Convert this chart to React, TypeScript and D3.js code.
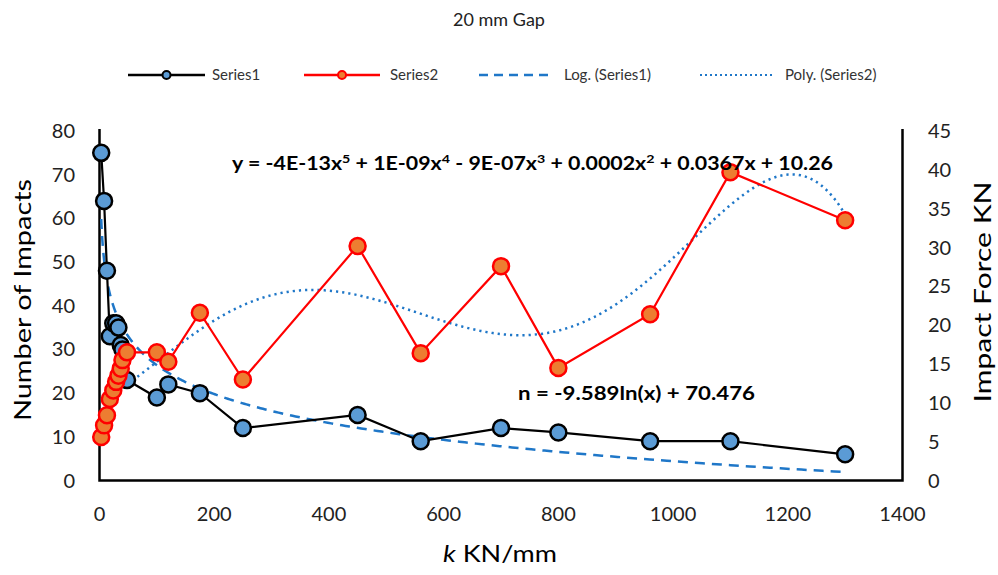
import React from "react";
import * as d3 from "d3";

const kValues = [3, 8, 13, 18, 24, 29, 33, 37, 40, 48, 100, 120, 175, 250, 450, 560, 700, 800, 960, 1100, 1300];
const impacts = [75, 64, 48, 33, 36, 36, 35, 31, 30, 23, 19, 22, 20, 12, 15, 9, 12, 11, 9, 9, 6];
const impactForce = [5.6, 7.1, 8.4, 10.5, 11.6, 12.7, 13.5, 14.4, 15.5, 16.5, 16.5, 15.3, 21.6, 13.0, 30.2, 16.4, 27.6, 14.5, 21.4, 39.7, 33.5];
const xTicks = [0, 200, 400, 600, 800, 1000, 1200, 1400];
const leftTicks = [0, 10, 20, 30, 40, 50, 60, 70, 80];
const rightTicks = [0, 5, 10, 15, 20, 25, 30, 35, 40, 45];
const legendLabels = ["Series1", "Series2", "Log. (Series1)", "Poly. (Series2)"];

const W = 998, H = 575;
const M = { left: 99.5, right: 902.5, top: 131, bottom: 480.5 };
const FONT = "Lato, 'Open Sans', sans-serif";

function logFit(xs: number[], ys: number[]) {
  const lx = xs.map(Math.log);
  const mx = d3.mean(lx)!, my = d3.mean(ys)!;
  let num = 0, den = 0;
  lx.forEach((v, i) => { num += (v - mx) * (ys[i] - my); den += (v - mx) ** 2; });
  const a = num / den;
  return { a, b: my - a * mx };
}

function polyFit(xs: number[], ys: number[], deg: number, scale: number) {
  const n = deg + 1;
  const A: number[][] = Array.from({ length: n }, () => new Array(n + 1).fill(0));
  xs.forEach((x0, idx) => {
    const t = x0 / scale;
    for (let r = 0; r < n; r++) {
      for (let c = 0; c < n; c++) A[r][c] += Math.pow(t, r + c);
      A[r][n] += Math.pow(t, r) * ys[idx];
    }
  });
  for (let i = 0; i < n; i++) {
    let p = i;
    for (let r = i + 1; r < n; r++) if (Math.abs(A[r][i]) > Math.abs(A[p][i])) p = r;
    [A[i], A[p]] = [A[p], A[i]];
    for (let r = 0; r < n; r++) {
      if (r === i) continue;
      const f = A[r][i] / A[i][i];
      for (let c = i; c <= n; c++) A[r][c] -= f * A[i][c];
    }
  }
  const coef = A.map((row, i) => row[n] / row[i]);
  return (x: number) => coef.reduce((s, c, i) => s + c * Math.pow(x / scale, i), 0);
}

export default function App() {
  const x = d3.scaleLinear().domain([0, 1400]).range([M.left, M.right]);
  const yL = d3.scaleLinear().domain([0, 80]).range([M.bottom, M.top]);
  const yR = d3.scaleLinear().domain([0, 45]).range([M.bottom, M.top]);

  const s1 = kValues.map((k, i) => [k, impacts[i]] as [number, number]);
  const s2 = kValues.map((k, i) => [k, impactForce[i]] as [number, number]);

  const lf = logFit(kValues, impacts);
  const pf = polyFit(kValues, impactForce, 5, 1000);
  const kMin = d3.min(kValues)!, kMax = d3.max(kValues)!;
  const samples = d3.range(0, 301).map((i) => kMin + (kMax - kMin) * (i / 300));
  const logSamples = d3.range(0, 401).map((i) => kMin * Math.pow(kMax / kMin, i / 400));

  const line1 = d3.line<[number, number]>().x((d) => x(d[0])).y((d) => yL(d[1]));
  const line2 = d3.line<[number, number]>().x((d) => x(d[0])).y((d) => yR(d[1]));
  const logPath = d3.line<number>().x((k) => x(k)).y((k) => yL(lf.a * Math.log(k) + lf.b))(logSamples);
  const polyPath = d3.line<number>().x((k) => x(k)).y((k) => yR(pf(k)))(samples);

  const blue = "#5B9BD5";
  const orange = "#ED7D31";
  const trendBlue = "#1F77C8";

  const legendY = 75;
  const legendItems = [
    { x0: 128, x1: 205, tx: 212, kind: "s1" },
    { x0: 304, x1: 380, tx: 390, kind: "s2" },
    { x0: 479, x1: 550, tx: 564, kind: "log" },
    { x0: 700, x1: 772, tx: 785, kind: "poly" },
  ];

  return (
    <svg width={W} height={H} style={{ position: "absolute", left: 0, top: 0, background: "#fff" }} fontFamily={FONT}>
      <text x={499} y={26} textAnchor="middle" fontSize={18} fill="#222">20 mm Gap</text>

      {legendItems.map((it, i) => (
        <g key={i}>
          {it.kind === "s1" && <>
            <line x1={it.x0} x2={it.x1} y1={legendY} y2={legendY} stroke="#000" strokeWidth={2.5} />
            <circle cx={(it.x0 + it.x1) / 2} cy={legendY} r={4} fill={blue} stroke="#000" strokeWidth={2} />
          </>}
          {it.kind === "s2" && <>
            <line x1={it.x0} x2={it.x1} y1={legendY} y2={legendY} stroke="#FF0000" strokeWidth={2.5} />
            <circle cx={(it.x0 + it.x1) / 2} cy={legendY} r={4} fill={orange} stroke="#FF0000" strokeWidth={2} />
          </>}
          {it.kind === "log" && <line x1={it.x0} x2={it.x1} y1={legendY} y2={legendY} stroke={trendBlue} strokeWidth={2.5} strokeDasharray="9,6" />}
          {it.kind === "poly" && <line x1={it.x0} x2={it.x1} y1={legendY} y2={legendY} stroke={trendBlue} strokeWidth={2.2} strokeDasharray="2,3" />}
          <text x={it.tx} y={legendY + 5} fontSize={15} fill="#333">{legendLabels[i]}</text>
        </g>
      ))}

      {/* axes */}
      <path d={`M${M.left},${M.top - 2}V${M.bottom}H${M.right}V${M.top - 2}`} fill="none" stroke="#000" strokeWidth={2.5} />

      {leftTicks.map((t) => (
        <text key={"l" + t} x={75} y={yL(t) + 7} textAnchor="end" fontSize={20} fill="#222">{t}</text>
      ))}
      {rightTicks.map((t) => (
        <text key={"r" + t} x={928} y={yR(t) + 7} textAnchor="start" fontSize={20} fill="#222">{t}</text>
      ))}
      {xTicks.map((t) => (
        <text key={"x" + t} x={x(t)} y={521} textAnchor="middle" fontSize={20} fill="#222">{t}</text>
      ))}

      <text transform={`translate(31,300) rotate(-90)`} textAnchor="middle" fontSize={24} fill="#000" textLength={242} lengthAdjust="spacingAndGlyphs">Number of Impacts</text>
      <text transform={`translate(991,292) rotate(-90)`} textAnchor="middle" fontSize={24} fill="#000" textLength={221} lengthAdjust="spacingAndGlyphs">Impact Force KN</text>
      <text x={500} y={562} textAnchor="middle" fontSize={24} fill="#000" textLength={114} lengthAdjust="spacingAndGlyphs"><tspan fontStyle="italic">k</tspan> KN/mm</text>

      {/* trendlines */}
      <path d={logPath || ""} fill="none" stroke={trendBlue} strokeWidth={2.5} strokeDasharray="10,7" />
      <path d={polyPath || ""} fill="none" stroke={trendBlue} strokeWidth={2.5} strokeDasharray="2.2,4" />

      {/* series 1 */}
      <path d={line1(s1) || ""} fill="none" stroke="#000" strokeWidth={2.2} />
      {s1.map((d, i) => (
        <circle key={"a" + i} cx={x(d[0])} cy={yL(d[1])} r={8} fill={blue} stroke="#000" strokeWidth={2.5} />
      ))}
      {/* series 2 */}
      <path d={line2(s2) || ""} fill="none" stroke="#FF0000" strokeWidth={2.2} />
      {s2.map((d, i) => (
        <circle key={"b" + i} cx={x(d[0])} cy={yR(d[1])} r={8} fill={orange} stroke="#FF0000" strokeWidth={2.5} />
      ))}

      {/* equations */}
      <text x={232} y={170} fontSize={18} fontWeight="bold" fill="#000" textLength={601} lengthAdjust="spacingAndGlyphs">
        y = -4E-13x<tspan dy={-7} fontSize={12}>5</tspan><tspan dy={7}> + 1E-09x</tspan><tspan dy={-7} fontSize={12}>4</tspan><tspan dy={7}> - 9E-07x</tspan><tspan dy={-7} fontSize={12}>3</tspan><tspan dy={7}> + 0.0002x</tspan><tspan dy={-7} fontSize={12}>2</tspan><tspan dy={7}> + 0.0367x + 10.26</tspan>
      </text>
      <text x={518} y={400} fontSize={18} fontWeight="bold" fill="#000" textLength={237} lengthAdjust="spacingAndGlyphs">n = -9.589ln(x) + 70.476</text>
    </svg>
  );
}
